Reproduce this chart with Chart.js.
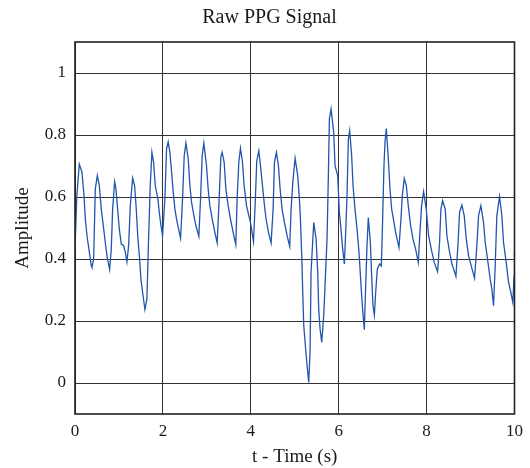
<!DOCTYPE html>
<html>
<head>
<meta charset="utf-8">
<title>Raw PPG Signal</title>
<script src="https://cdn.jsdelivr.net/npm/chart.js@4/dist/chart.umd.min.js"></script>
<style>
  html, body { margin: 0; padding: 0; background: #fff; }
  #wrap { width: 530px; height: 468px; }
</style>
</head>
<body>
<div id="wrap"><canvas id="ppg" width="530" height="468"></canvas></div>
<script>
// sample times (s) and raw amplitude of the PPG trace
const times = [
  0.000, 0.040, 0.098, 0.159, 0.205, 0.235, 0.273, 0.326, 0.371, 0.386,
  0.424, 0.462, 0.508, 0.553, 0.598, 0.652, 0.689, 0.727, 0.788, 0.826,
  0.856, 0.902, 0.932, 0.970, 1.008, 1.053, 1.106, 1.144, 1.182, 1.220,
  1.258, 1.311, 1.356, 1.394, 1.432, 1.470, 1.500, 1.538, 1.591, 1.636,
  1.674, 1.712, 1.750, 1.788, 1.826, 1.886, 1.917, 1.955, 1.992, 2.045,
  2.083, 2.121, 2.159, 2.205, 2.235, 2.273, 2.311, 2.348, 2.402, 2.447,
  2.485, 2.523, 2.576, 2.614, 2.652, 2.705, 2.750, 2.818, 2.856, 2.894,
  2.932, 2.992, 3.030, 3.068, 3.129, 3.182, 3.235, 3.280, 3.318, 3.348,
  3.394, 3.432, 3.485, 3.538, 3.598, 3.659, 3.689, 3.727, 3.765, 3.811,
  3.848, 3.902, 3.947, 3.992, 4.061, 4.098, 4.136, 4.182, 4.220, 4.258,
  4.311, 4.348, 4.402, 4.462, 4.508, 4.538, 4.583, 4.629, 4.667, 4.712,
  4.765, 4.826, 4.886, 4.917, 4.955, 5.008, 5.068, 5.106, 5.129, 5.159,
  5.182, 5.205, 5.242, 5.280, 5.318, 5.348, 5.371, 5.432, 5.485, 5.523,
  5.545, 5.576, 5.614, 5.659, 5.689, 5.735, 5.765, 5.788, 5.826, 5.886,
  5.917, 5.977, 6.015, 6.045, 6.083, 6.129, 6.159, 6.189, 6.220, 6.250,
  6.295, 6.326, 6.371, 6.424, 6.462, 6.508, 6.538, 6.583, 6.614, 6.644,
  6.674, 6.720, 6.750, 6.780, 6.811, 6.841, 6.879, 6.932, 6.970, 6.992,
  7.030, 7.053, 7.083, 7.129, 7.167, 7.205, 7.258, 7.295, 7.371, 7.417,
  7.447, 7.492, 7.538, 7.583, 7.636, 7.689, 7.750, 7.811, 7.848, 7.886,
  7.932, 7.992, 8.045, 8.121, 8.174, 8.250, 8.295, 8.326, 8.364, 8.424,
  8.462, 8.523, 8.576, 8.667, 8.712, 8.750, 8.803, 8.856, 8.902, 8.955,
  9.015, 9.091, 9.144, 9.182, 9.235, 9.295, 9.333, 9.386, 9.447, 9.485,
  9.523, 9.561, 9.598, 9.659, 9.712, 9.750, 9.811, 9.864, 9.917, 9.962,
  9.992, 10.000
];
const amplitude = [
  0.430, 0.600, 0.706, 0.680, 0.604, 0.529, 0.475, 0.422, 0.378, 0.373,
  0.400, 0.626, 0.669, 0.637, 0.561, 0.497, 0.454, 0.411, 0.366, 0.432,
  0.561, 0.649, 0.626, 0.561, 0.497, 0.448, 0.443, 0.422, 0.391, 0.443,
  0.572, 0.661, 0.637, 0.561, 0.465, 0.400, 0.335, 0.292, 0.237, 0.271,
  0.465, 0.637, 0.744, 0.712, 0.637, 0.594, 0.551, 0.508, 0.475, 0.594,
  0.755, 0.778, 0.744, 0.669, 0.615, 0.561, 0.529, 0.502, 0.467, 0.594,
  0.733, 0.774, 0.723, 0.637, 0.583, 0.540, 0.508, 0.473, 0.594, 0.733,
  0.774, 0.701, 0.626, 0.572, 0.524, 0.486, 0.452, 0.594, 0.728, 0.744,
  0.712, 0.626, 0.572, 0.529, 0.486, 0.446, 0.594, 0.712, 0.757, 0.712,
  0.637, 0.572, 0.545, 0.518, 0.456, 0.572, 0.717, 0.749, 0.701, 0.647,
  0.572, 0.529, 0.486, 0.452, 0.561, 0.712, 0.744, 0.701, 0.626, 0.561,
  0.518, 0.475, 0.441, 0.561, 0.647, 0.725, 0.669, 0.594, 0.529, 0.411,
  0.292, 0.185, 0.120, 0.056, 0.002, 0.099, 0.357, 0.518, 0.465, 0.357,
  0.239, 0.174, 0.131, 0.217, 0.314, 0.465, 0.669, 0.852, 0.884, 0.809,
  0.701, 0.669, 0.551, 0.508, 0.443, 0.384, 0.486, 0.604, 0.787, 0.814,
  0.733, 0.637, 0.561, 0.486, 0.422, 0.314, 0.249, 0.172, 0.314, 0.443,
  0.534, 0.454, 0.346, 0.249, 0.219, 0.292, 0.368, 0.384, 0.378, 0.486,
  0.701, 0.776, 0.821, 0.723, 0.626, 0.561, 0.518, 0.486, 0.437, 0.529,
  0.604, 0.660, 0.637, 0.572, 0.508, 0.465, 0.432, 0.389, 0.486, 0.572,
  0.617, 0.561, 0.475, 0.422, 0.389, 0.359, 0.454, 0.561, 0.588, 0.561,
  0.475, 0.422, 0.384, 0.344, 0.443, 0.551, 0.574, 0.540, 0.465, 0.411,
  0.378, 0.338, 0.443, 0.540, 0.572, 0.518, 0.454, 0.400, 0.335, 0.303,
  0.249, 0.378, 0.540, 0.601, 0.540, 0.454, 0.389, 0.325, 0.292, 0.260,
  0.346, 0.427
];
const xTicks = [0, 2, 4, 6, 8, 10];
const yTicks = [0, 0.2, 0.4, 0.6, 0.8, 1];

const serif = "'Liberation Serif', 'DejaVu Serif', serif";
const ink = '#1a1a1a';

// box round the plotting area
const frame = {
  id: 'frame',
  afterDraw(chart) {
    const { ctx, chartArea: a } = chart;
    ctx.save();
    ctx.strokeStyle = '#222';
    ctx.lineWidth = 1.6;
    ctx.strokeRect(a.left, a.top, a.right - a.left, a.bottom - a.top);
    ctx.restore();
  }
};

// nudge the title block so its centre sits a little left of the plot centre
const titleShift = {
  id: 'titleShift',
  afterLayout(chart) {
    if (chart.titleBlock) chart.titleBlock.left = 24;
  }
};

new Chart(document.getElementById('ppg'), {
  type: 'line',
  data: {
    datasets: [{
      label: 'PPG',
      data: times.map((t, i) => ({ x: t, y: amplitude[i] })),
      borderColor: 'rgb(32, 86, 172)',
      borderWidth: 1.3,
      pointRadius: 0,
      tension: 0,
      fill: false
    }]
  },
  options: {
    responsive: false,
    animation: false,
    layout: { padding: { left: 0, right: 15, top: 0, bottom: 0 } },
    plugins: {
      legend: { display: false },
      tooltip: { enabled: false },
      title: {
        display: true,
        text: 'Raw PPG Signal',
        color: ink,
        font: { family: serif, size: 20, weight: 'normal' },
        padding: { top: 6, bottom: 12 }
      }
    },
    scales: {
      x: {
        type: 'linear',
        min: 0,
        max: 10,
        afterBuildTicks: s => { s.ticks = xTicks.map(v => ({ value: v })); },
        afterFit: s => { s.height = 54; },
        ticks: { color: ink, font: { family: serif, size: 17 }, padding: 7, maxRotation: 0 },
        grid: { color: '#333', lineWidth: 1, drawTicks: false },
        border: { display: false },
        title: {
          display: true,
          text: 't - Time (s)',
          color: ink,
          font: { family: serif, size: 19 },
          padding: { top: 7, bottom: 0 }
        }
      },
      y: {
        type: 'linear',
        min: -0.1,
        max: 1.1,
        afterBuildTicks: s => { s.ticks = yTicks.map(v => ({ value: v })); },
        afterFit: s => { s.width = 75; },
        ticks: {
          color: ink,
          font: { family: serif, size: 17 },
          padding: 9,
          callback: v => String(+v.toFixed(1))
        },
        grid: { color: '#333', lineWidth: 1, drawTicks: false },
        border: { display: false },
        title: {
          display: true,
          text: 'Amplitude',
          color: ink,
          font: { family: serif, size: 19 },
          padding: { top: 12, bottom: 0 }
        }
      }
    }
  },
  plugins: [frame, titleShift]
});
</script>
</body>
</html>
